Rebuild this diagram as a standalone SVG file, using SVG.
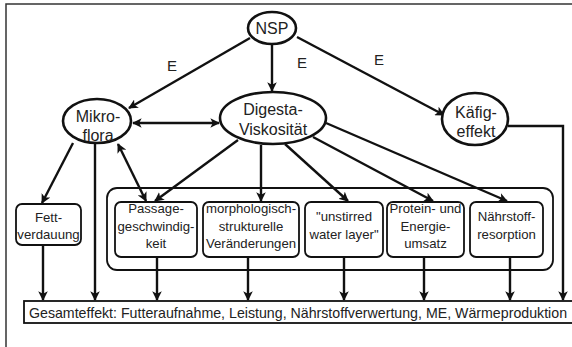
<svg xmlns="http://www.w3.org/2000/svg" width="572" height="347" viewBox="0 0 572 347">
<defs>
<style>
text{font-family:"Liberation Sans",Arial,sans-serif;fill:#222;text-anchor:middle}
.ell{fill:#fff;stroke:#111;stroke-width:2.6}
.box{fill:#fff;stroke:#111;stroke-width:1.8}
.con{fill:none;stroke:#111;stroke-width:2.4}
.big{font-size:16px}
.sm{font-size:13.2px}
</style>
<marker id="ah" viewBox="0 0 10 10" refX="9" refY="5" markerWidth="4" markerHeight="4" orient="auto-start-reverse" markerUnits="strokeWidth">
<path d="M0,0 L10,5 L0,10 L2.5,5 z" fill="#111"/>
</marker>
</defs>
<rect width="572" height="347" fill="#fff"/>
<rect id="frame" x="6" y="4" width="580" height="360" fill="none" stroke="#333" stroke-width="1.5"/>

<g id="group-box">
<rect x="107" y="188" width="446" height="82" rx="10" ry="10" fill="none" stroke="#111" stroke-width="1.8"/>
</g>

<g id="connectors">
<line class="con" x1="250" y1="38" x2="129" y2="108" marker-end="url(#ah)"/>
<line class="con" x1="272" y1="44" x2="272" y2="91" marker-end="url(#ah)"/>
<line class="con" x1="297" y1="37" x2="444" y2="115" marker-end="url(#ah)"/>
<line class="con" x1="133" y1="123" x2="219" y2="123" marker-start="url(#ah)" marker-end="url(#ah)"/>
<line class="con" x1="73" y1="143" x2="42" y2="203" marker-end="url(#ah)"/>
<line class="con" x1="95" y1="144" x2="95" y2="300" marker-end="url(#ah)"/>
<line class="con" x1="118" y1="144" x2="146" y2="201" marker-start="url(#ah)" marker-end="url(#ah)"/>
<line class="con" x1="238" y1="140" x2="155" y2="201" marker-end="url(#ah)"/>
<line class="con" x1="261" y1="145" x2="261" y2="201" marker-end="url(#ah)"/>
<line class="con" x1="285" y1="144" x2="348" y2="201" marker-end="url(#ah)"/>
<line class="con" x1="313" y1="137" x2="433" y2="201" marker-end="url(#ah)"/>
<line class="con" x1="326" y1="123" x2="507" y2="201" marker-end="url(#ah)"/>
<polyline class="con" points="508,126 563,126 563,300" marker-end="url(#ah)"/>
<line class="con" x1="43" y1="245" x2="43" y2="300" marker-end="url(#ah)"/>
<line class="con" x1="157" y1="257" x2="157" y2="300" marker-end="url(#ah)"/>
<line class="con" x1="248" y1="257" x2="248" y2="300" marker-end="url(#ah)"/>
<line class="con" x1="344" y1="257" x2="344" y2="300" marker-end="url(#ah)"/>
<line class="con" x1="424" y1="257" x2="424" y2="300" marker-end="url(#ah)"/>
<line class="con" x1="510" y1="257" x2="510" y2="300" marker-end="url(#ah)"/>
</g>

<g id="edge-labels">
<text x="172" y="71" style="font-size:15px">E</text>
<text x="302" y="68" style="font-size:15px">E</text>
<text x="379" y="65" style="font-size:15px">E</text>
</g>

<g id="nsp">
<ellipse class="ell" cx="272" cy="28" rx="24" ry="16"/>
<text class="big" x="272" y="34">NSP</text>
</g>
<g id="mikroflora">
<ellipse class="ell" cx="97" cy="121" rx="34" ry="22"/>
<text class="big" x="98" y="122">Mikro-</text>
<text class="big" x="98" y="141">flora</text>
</g>
<g id="digesta">
<ellipse class="ell" cx="273" cy="118" rx="53" ry="26"/>
<text class="big" x="273" y="115">Digesta-</text>
<text class="big" x="273" y="135">Viskosität</text>
</g>
<g id="kaefig">
<ellipse class="ell" cx="475" cy="119" rx="33" ry="26"/>
<text class="big" x="476" y="118">Käfig-</text>
<text class="big" x="476" y="137">effekt</text>
</g>

<g id="fett">
<rect class="box" x="16" y="204" width="65" height="41" rx="6"/>
<text class="sm" x="48.5" y="222">Fett-</text>
<text class="sm" x="48.5" y="239">verdauung</text>
</g>
<g id="passage">
<rect class="box" x="115" y="202" width="82" height="55" rx="6"/>
<text class="sm" x="156" y="213">Passage-</text>
<text class="sm" x="156" y="231">geschwindig-</text>
<text class="sm" x="156" y="248">keit</text>
</g>
<g id="morph">
<rect class="box" x="203" y="202" width="96" height="55" rx="6"/>
<text class="sm" x="251" y="213">morphologisch-</text>
<text class="sm" x="251" y="231">strukturelle</text>
<text class="sm" x="251" y="248">Veränderungen</text>
</g>
<g id="unstirred">
<rect class="box" x="305" y="202" width="78" height="55" rx="6"/>
<text class="sm" x="344" y="221">"unstirred</text>
<text class="sm" x="344" y="239">water layer"</text>
</g>
<g id="protein">
<rect class="box" x="387" y="202" width="77" height="55" rx="6"/>
<text class="sm" x="425.5" y="213">Protein- und</text>
<text class="sm" x="425.5" y="231">Energie-</text>
<text class="sm" x="425.5" y="248">umsatz</text>
</g>
<g id="naehrstoff">
<rect class="box" x="470" y="202" width="73" height="55" rx="6"/>
<text class="sm" x="506.5" y="221">Nährstoff-</text>
<text class="sm" x="506.5" y="239">resorption</text>
</g>

<g id="gesamt">
<rect class="box" x="24" y="301" width="556" height="22"/>
<text x="298" y="318" style="font-size:14.2px">Gesamteffekt: Futteraufnahme, Leistung, Nährstoffverwertung, ME, Wärmeproduktion</text>
</g>
</svg>
